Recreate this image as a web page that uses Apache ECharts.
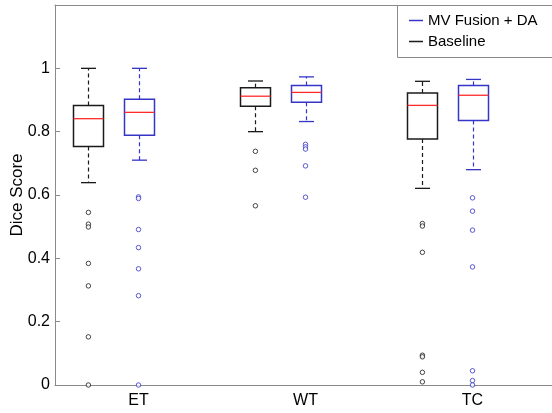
<!DOCTYPE html>
<html><head><meta charset="utf-8">
<script src="https://cdn.jsdelivr.net/npm/echarts@6/dist/echarts.min.js"></script>
<style>html,body{margin:0;padding:0;background:#fff}#c{width:552px;height:413px}</style>
</head><body><div id="c"></div>
<script>
const categories = ['ET', 'WT', 'TC'];
// [lower whisker, Q1, median, Q3, upper whisker]
const baselineStats = [
  [0.639, 0.753, 0.841, 0.883, 1.000],
  [0.800, 0.880, 0.912, 0.939, 0.960],
  [0.621, 0.777, 0.883, 0.922, 0.959]
];
const mvStats = [
  [0.710, 0.789, 0.861, 0.902, 1.000],
  [0.832, 0.893, 0.924, 0.946, 0.973],
  [0.680, 0.835, 0.915, 0.946, 0.965]
];
const baselineOutliers = [
  [0.545, 0.508, 0.499, 0.384, 0.313, 0.152, 0.000],
  [0.738, 0.678, 0.566],
  [0.510, 0.502, 0.419, 0.094, 0.089, 0.040, 0.010]
];
const mvOutliers = [
  [0.594, 0.589, 0.491, 0.434, 0.367, 0.282, 0.000],
  [0.760, 0.752, 0.745, 0.692, 0.593],
  [0.591, 0.549, 0.489, 0.373, 0.045, 0.014, 0.000]
];
const yTicks = [0, 0.2, 0.4, 0.6, 0.8, 1];

const BASE_COLOR = '#1a1a1a';
const MV_COLOR = '#3535c8';
const MED_COLOR = '#ff2a2a';
const AXIS_COLOR = '#8a8a8a';
const FONT = "'Liberation Sans', Arial, Helvetica, sans-serif";
const OFFSET = 0.3;

function boxRenderer(color) {
  return function (params, api) {
    const x = api.value(0);
    const p = [1, 2, 3, 4, 5].map(k => api.coord([x, api.value(k)]));
    const cx = Math.round(p[0][0]) + 0.5;
    const hw = 15, cw = 7.5;
    const yLow = p[0][1], yQ1 = p[1][1], yMed = p[2][1], yQ3 = p[3][1], yHigh = p[4][1];
    const dashStyle = { stroke: color, lineWidth: 1.2, lineDash: [4, 3] };
    const solid = { stroke: color, lineWidth: 1.3 };
    return {
      type: 'group',
      children: [
        { type: 'line', shape: { x1: cx, y1: yQ3, x2: cx, y2: yHigh }, style: dashStyle },
        { type: 'line', shape: { x1: cx, y1: yQ1, x2: cx, y2: yLow }, style: dashStyle },
        { type: 'line', shape: { x1: cx - cw, y1: yHigh, x2: cx + cw, y2: yHigh }, style: solid },
        { type: 'line', shape: { x1: cx - cw, y1: yLow, x2: cx + cw, y2: yLow }, style: solid },
        { type: 'rect', shape: { x: cx - hw, y: yQ3, width: 2 * hw, height: yQ1 - yQ3 }, style: { stroke: color, fill: 'none', lineWidth: 1.5 } },
        { type: 'line', shape: { x1: cx - hw, y1: yMed, x2: cx + hw, y2: yMed }, style: { stroke: MED_COLOR, lineWidth: 1.3 } }
      ]
    };
  };
}

const baseBoxData = baselineStats.map((s, i) => [i + 1 - OFFSET].concat(s));
const mvBoxData = mvStats.map((s, i) => [i + 1].concat(s));
const baseOutData = [];
baselineOutliers.forEach((arr, i) => arr.forEach(v => baseOutData.push([i + 1 - OFFSET, v])));
const mvOutData = [];
mvOutliers.forEach((arr, i) => arr.forEach(v => mvOutData.push([i + 1, v])));

const chart = echarts.init(document.getElementById('c'), null, { renderer: 'canvas' });
chart.setOption({
  animation: false,
  backgroundColor: '#fff',
  textStyle: { fontFamily: FONT },
  grid: { left: 55, top: 5, right: -4, bottom: 28, containLabel: false, outerBoundsMode: 'none' },
  graphic: [
    {
      type: 'rect', left: 397, top: 5, z: 90,
      shape: { width: 200, height: 52 },
      style: { fill: '#fff', stroke: AXIS_COLOR, lineWidth: 1 }
    }
  ],
  legend: {
    data: ['MV Fusion + DA', 'Baseline'],
    orient: 'vertical',
    left: 397, top: 5, z: 100,
    padding: [8, 10, 8, 12],
    itemGap: 6,
    itemWidth: 14, itemHeight: 1.5,
    icon: 'rect',
    textStyle: { fontSize: 15, color: '#000', fontFamily: FONT }
  },
  xAxis: [
    {
      type: 'category', data: categories, position: 'bottom', boundaryGap: true,
      axisLine: { lineStyle: { color: AXIS_COLOR } },
      axisTick: { inside: true, alignWithLabel: true, length: 5, lineStyle: { color: AXIS_COLOR } },
      axisLabel: { fontSize: 16, color: '#000', margin: 8, fontFamily: FONT },
      splitLine: { show: false }
    },
    { type: 'value', min: 0.5, max: 3.5, show: false },
    {
      type: 'category', data: categories, position: 'top', boundaryGap: true,
      axisLine: { lineStyle: { color: AXIS_COLOR } },
      axisTick: { inside: true, alignWithLabel: true, length: 5, lineStyle: { color: AXIS_COLOR } },
      axisLabel: { show: false }, splitLine: { show: false }
    }
  ],
  yAxis: {
    type: 'value', min: 0, max: 1.2, interval: 0.2,
    name: 'Dice Score', nameLocation: 'middle', nameGap: 29, nameMoveOverlap: false,
    nameTextStyle: { fontSize: 17, color: '#000', fontFamily: FONT },
    axisLine: { show: true, lineStyle: { color: AXIS_COLOR } },
    axisTick: { show: true, inside: true, length: 5, lineStyle: { color: AXIS_COLOR } },
    axisLabel: {
      fontSize: 16, color: '#000', margin: 5, fontFamily: FONT,
      formatter: v => { const t = yTicks.find(t => Math.abs(t - v) < 1e-6); return t === undefined ? '' : String(t); }
    },
    splitLine: { show: false }
  },
  series: [
    {
      name: 'Baseline', type: 'custom', xAxisIndex: 1, yAxisIndex: 0,
      itemStyle: { color: BASE_COLOR },
      encode: { x: 0, y: [1, 2, 3, 4, 5] },
      renderItem: boxRenderer(BASE_COLOR), data: baseBoxData, z: 3
    },
    {
      name: 'MV Fusion + DA', type: 'custom', xAxisIndex: 1, yAxisIndex: 0,
      itemStyle: { color: MV_COLOR },
      encode: { x: 0, y: [1, 2, 3, 4, 5] },
      renderItem: boxRenderer(MV_COLOR), data: mvBoxData, z: 3
    },
    {
      name: 'Baseline outliers', type: 'scatter', xAxisIndex: 1, yAxisIndex: 0,
      symbol: 'circle', symbolSize: 4.5,
      itemStyle: { color: '#fff', borderColor: BASE_COLOR, borderWidth: 1 },
      data: baseOutData, z: 4
    },
    {
      name: 'MV outliers', type: 'scatter', xAxisIndex: 1, yAxisIndex: 0,
      symbol: 'circle', symbolSize: 4.5,
      itemStyle: { color: '#fff', borderColor: MV_COLOR, borderWidth: 1 },
      data: mvOutData, z: 4
    }
  ]
});
</script>
</body></html>
